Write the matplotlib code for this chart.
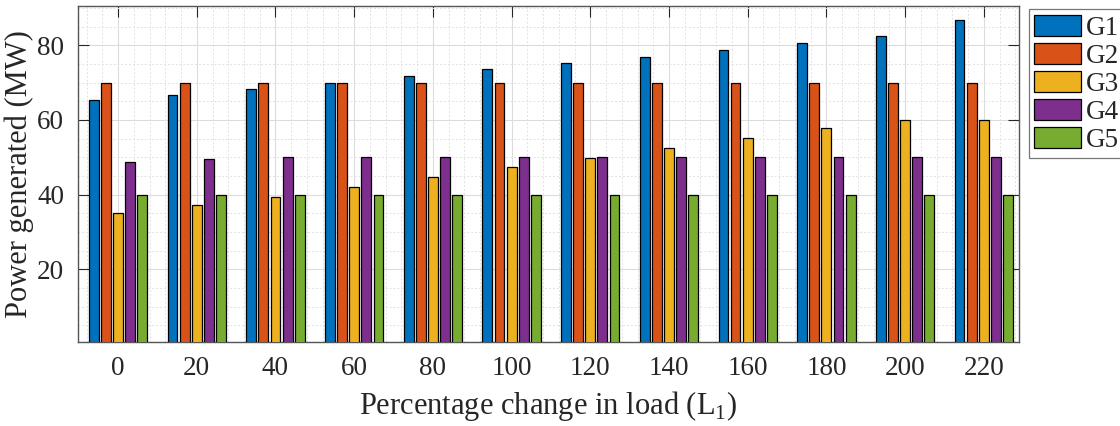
import numpy as np
import matplotlib
matplotlib.use("Agg")
import matplotlib.pyplot as plt
from matplotlib.ticker import MultipleLocator

plt.rcParams['font.family'] = ['Liberation Serif', 'DejaVu Serif']
plt.rcParams['mathtext.fontset'] = 'custom'
plt.rcParams['mathtext.rm'] = 'Liberation Serif'

# data
load_change = [0, 20, 40, 60, 80, 100, 120, 140, 160, 180, 200, 220]
g1 = [65.3, 66.7, 68.2, 69.8, 71.8, 73.5, 75.2, 76.8, 78.7, 80.5, 82.4, 86.7]
g2 = [70, 70, 70, 70, 70, 70, 70, 70, 70, 70, 70, 70]
g3 = [35.1, 37.2, 39.4, 42.0, 44.7, 47.4, 49.7, 52.5, 55.1, 57.8, 60.0, 60.0]
g4 = [48.6, 49.5, 50, 50, 50, 50, 50, 50, 50, 50, 50, 50]
g5 = [40, 40, 40, 40, 40, 40, 40, 40, 40, 40, 40, 40]
series = [g1, g2, g3, g4, g5]
names = ['G1', 'G2', 'G3', 'G4', 'G5']
colors = ['#0072BD', '#D95319', '#EDB120', '#7E2F8E', '#77AC30']

axcol = '#262626'

fig = plt.figure(figsize=(11.2, 4.26), dpi=100)
ax = fig.add_axes([0.0696, 0.197, 0.8404, 0.789])

x = np.arange(len(load_change))
pitch = 0.154
width = 0.125
for i, (vals, name, c) in enumerate(zip(series, names, colors)):
    ax.bar(x + (i - 2) * pitch, vals, width, color=c, edgecolor='black',
           linewidth=0.9, label=name, zorder=3)

ax.set_xlim(-0.51, 11.45)
ax.set_ylim(0.5, 90.5)
ax.set_xticks(x)
ax.set_xticklabels([str(v) for v in load_change])
ax.set_yticks([20, 40, 60, 80])
ax.xaxis.set_minor_locator(MultipleLocator(0.2))
ax.yaxis.set_minor_locator(MultipleLocator(5))

ax.grid(which='major', color='#dcdcdc', linewidth=0.8, zorder=0)
ax.grid(which='minor', color='#e2e2e2', linestyle=(0, (2, 2)), linewidth=0.7, zorder=0)
ax.set_axisbelow(True)

ax.tick_params(which='major', direction='in', length=8, width=0.8, color=axcol,
               top=True, right=True, labelsize=19.5, labelcolor=axcol, pad=10)
ax.tick_params(which='minor', length=0)
for s in ax.spines.values():
    s.set_color('#555555')
    s.set_linewidth(1.0)

ax.set_ylabel('Power generated (MW)', fontsize=22, color=axcol, labelpad=2)
ax.set_xlabel('Percentage change in load (L$_1$)', fontsize=22, color=axcol, labelpad=6)

leg = ax.legend(loc='upper left', bbox_to_anchor=(1.0105, 0.99), fontsize=19.5,
                frameon=True, fancybox=False, edgecolor='#555555',
                handlelength=1.7, handleheight=0.82, labelspacing=0.08,
                handletextpad=0.2, borderpad=0.2, borderaxespad=0)
leg.get_frame().set_linewidth(0.9)
for t in leg.get_texts():
    t.set_color(axcol)

fig.savefig('out.png', dpi=100)
